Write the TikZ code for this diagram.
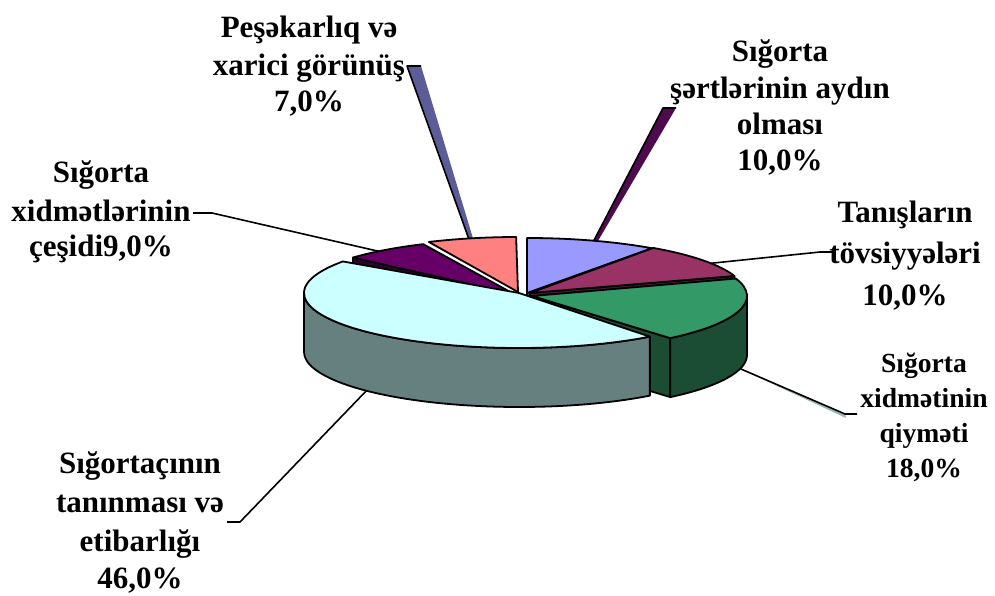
\documentclass[tikz,border=0pt]{standalone}
\usepackage{fontspec}
\setmainfont{Liberation Serif}
\usetikzlibrary{calc}

\definecolor{pinkTop}{HTML}{FF8080}
\definecolor{pinkSide}{HTML}{804040}
\definecolor{blueTop}{HTML}{9999FF}
\definecolor{blueSide}{HTML}{4D4D80}
\definecolor{purpleTop}{HTML}{660066}
\definecolor{purpleSide}{HTML}{330033}
\definecolor{maroonTop}{HTML}{993366}
\definecolor{maroonSide}{HTML}{4D1A33}
\definecolor{greenTop}{HTML}{339966}
\definecolor{greenSide}{HTML}{1A4D33}
\definecolor{cyanTop}{HTML}{CCFFFF}
\definecolor{cyanSide}{HTML}{668080}
\definecolor{wedgeSlate}{HTML}{5C5C99}
\definecolor{wedgePlum}{HTML}{4D0A4D}
\definecolor{wedgeGrey}{HTML}{9DB5B5}

% top surface of a slice: centre, start angle, end angle, fill
\newcommand\slicetop[4]{%
  \filldraw[pieedge, fill=#4] (#1) -- ($(#1)+(#2:215 and 55)$)
    arc[start angle=#2, end angle=#3, x radius=215, y radius=55] -- cycle;}
% radial cut face of a slice: centre, angle, fill
\newcommand\sliceface[3]{%
  \filldraw[pieedge, fill=#3] (#1) -- ($(#1)+(#2:215 and 55)$) -- ++(0,-59)
    -- ($(#1)+(0,-59)$) -- cycle;}
% curved outer wall of a slice: centre, start angle, end angle, fill
\newcommand\sliceside[4]{%
  \filldraw[pieedge, fill=#4] ($(#1)+(#2:215 and 55)$)
    arc[start angle=#2, end angle=#3, x radius=215, y radius=55] -- ++(0,-59)
    arc[start angle=#3, end angle=#2, x radius=215, y radius=55] -- cycle;}

\begin{document}
\begin{tikzpicture}[x=1pt, y=1pt,
  pieedge/.style={draw=black, line width=1.8pt, line join=round},
  leader/.style={draw=black, line width=1.6pt, line join=round},
  lbl/.style={inner sep=0pt, anchor=base, font=\fontsize{31}{36}\selectfont\bfseries},
  lblsmall/.style={inner sep=0pt, anchor=base, font=\fontsize{27.6}{33}\selectfont\bfseries}]
\useasboundingbox (0,0) rectangle (995,595);

% ---- labels ----
\node[lbl] (p1) at (309,557) {Peşəkarlıq və};
\node[lbl] (p2) at (309,519) {xarici görünüş};
\node[lbl] (p3) at (309,483) {7,0\%};

\node[lbl] (s1) at (780,533) {Sığorta};
\node[lbl] (s2) at (780,496) {şərtlərinin aydın};
\node[lbl] (s3) at (780,460) {olması};
\node[lbl] (s4) at (780,424) {10,0\%};

\node[lbl] (t1) at (905,372) {Tanışların};
\node[lbl] (t2) at (905,331) {tövsiyyələri};
\node[lbl] (t3) at (905,290) {10,0\%};

\node[lblsmall] (q1) at (924,223) {Sığorta};
\node[lblsmall] (q2) at (924,188) {xidmətinin};
\node[lblsmall] (q3) at (924,153) {qiyməti};
\node[lblsmall] (q4) at (924,118) {18,0\%};

\node[lbl] (e1) at (140,122) {Sığortaçının};
\node[lbl] (e2) at (140,83) {tanınması və};
\node[lbl] (e3) at (140,44) {etibarlığı};
\node[lbl] (e4) at (140,7) {46,0\%};

\node[lbl] (c1) at (101,412) {Sığorta};
\node[lbl] (c2) at (101,373) {xidmətlərinin};
\node[lbl] (c3) at (101,338) {çeşidi9,0\%};

% ---- leader lines (drawn first, the pie covers their inner ends) ----
\coordinate (pA) at (407,529);  \coordinate (pB) at (421,529);
\coordinate (pC) at (475,350);  \coordinate (pD) at (471,350);
\fill[wedgeSlate] (pA) -- (pB) -- (pC) -- (pD) -- cycle;
\draw[leader] (pB) -- (pA) -- (pD);

\coordinate (sA) at (663,487);  \coordinate (sB) at (676,487);
\coordinate (sC) at (595,349);  \coordinate (sD) at (591,349);
\fill[wedgePlum] (sA) -- (sB) -- (sC) -- (sD) -- cycle;
\draw[leader] (sB) -- (sA) -- (sD);

\coordinate (cEnd) at (193,382); \coordinate (cKnee) at (212,382);
\coordinate (cTip) at (386,342);
\draw[leader] (cEnd) -- (cKnee) -- (cTip);

\coordinate (tEnd) at (833,343); \coordinate (tKnee) at (820,343);
\coordinate (tTip) at (704,331);
\draw[leader] (tEnd) -- (tKnee) -- (tTip);

\coordinate (qEnd) at (857,181); \coordinate (qKnee) at (845,181);
\coordinate (qTip) at (734,229);
\fill[wedgeGrey] (qTip) -- (qKnee) -- (846,177) -- cycle;
\draw[leader] (qEnd) -- (qKnee) -- (qTip);

\coordinate (eEnd) at (227,73); \coordinate (eKnee) at (240,73);
\coordinate (eTip) at (369,207);
\draw[leader] (eEnd) -- (eKnee) -- (eTip);

% ---- slice centres ----
\coordinate (oPink)   at (518,303);
\coordinate (oBlue)   at (527,302);
\coordinate (oPurple) at (514,301);
\coordinate (oMaroon) at (530,302);
\coordinate (oGreen)  at (532,299);
\coordinate (oCyan)   at (519,302);

% ---- slices, back to front ----
% Peşəkarlıq və xarici görünüş
\slicetop{oPink}{90.5}{114.5}{pinkTop}
% Sığorta şərtlərinin aydın olması
\sliceface{oBlue}{54.5}{blueSide}
\slicetop{oBlue}{54.5}{90}{blueTop}
% Sığorta xidmətlərinin çeşidi
\sliceface{oPurple}{138.5}{purpleSide}
\slicetop{oPurple}{115}{138.5}{purpleTop}
% Tanışların tövsiyyələri
\sliceface{oMaroon}{18}{maroonSide}
\slicetop{oMaroon}{18}{55}{maroonTop}
% Sığorta xidmətinin qiyməti
\sliceface{oGreen}{-50}{greenSide}
\sliceside{oGreen}{-50}{0}{greenSide}
\slicetop{oGreen}{-50}{18.5}{greenTop}
% Sığortaçının tanınması və etibarlığı
\sliceside{oCyan}{180}{307.5}{cyanSide}
\slicetop{oCyan}{145}{307.5}{cyanTop}
\end{tikzpicture}
\end{document}
